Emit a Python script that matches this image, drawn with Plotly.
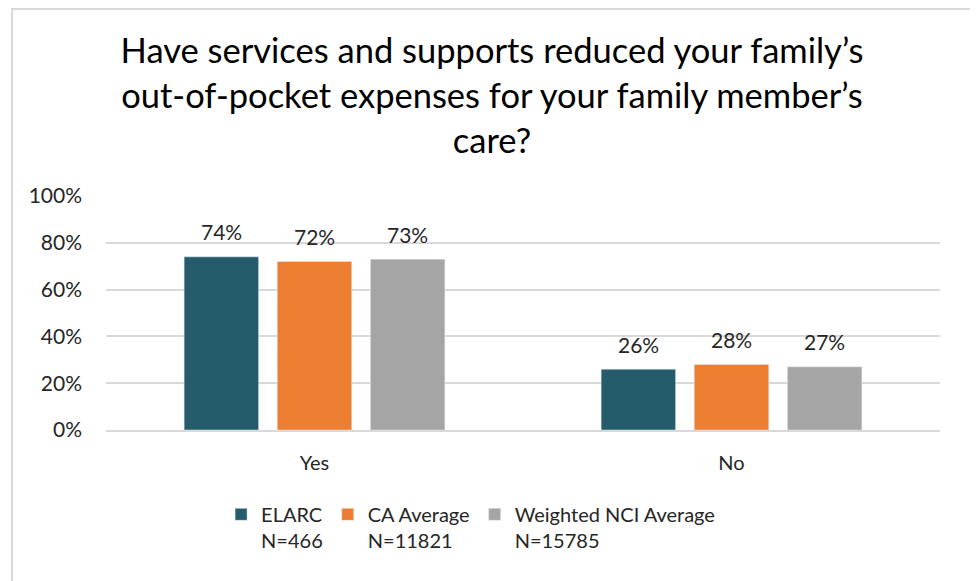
import plotly.graph_objects as go

categories = ["Yes", "No"]
series_names = ["ELARC<br>N=466", "CA Average<br>N=11821", "Weighted NCI Average<br>N=15785"]
elarc = [74, 26]
ca_avg = [72, 28]
nci_avg = [73, 27]
colors = ["#245C6B", "#ED7D31", "#A5A5A5"]
y_ticks = [0, 20, 40, 60, 80, 100]

FONT = "Lato"
BARGAP = 0.33
W, H = 970, 573
fig = go.Figure()
series = [elarc, ca_avg, nci_avg]
for name, vals, col in zip(series_names, series, colors):
    fig.add_trace(go.Bar(
        x=list(range(len(categories))), y=vals, name=name, marker_color=col,
    ))

# data labels above bars (annotations positioned from the data values)
n = len(series)
for j, vals in enumerate(series):
    for i, v in enumerate(vals):
        fig.add_annotation(
            x=i + (j - (n - 1) / 2) * (1 - BARGAP) / n, y=v, xref="x", yref="y",
            text=f"{v}%", showarrow=False, yanchor="middle", yshift=25,
            font=dict(family=FONT, size=21, color="#262626"),
        )

fig.update_layout(
    width=W, height=H,
    margin=dict(l=98, r=38, t=188, b=151),
    paper_bgcolor="white", plot_bgcolor="white",
    barmode="group", bargap=BARGAP, bargroupgap=0.2,
    title=dict(
        text="Have services and supports reduced your family’s<br>out-of-pocket expenses for your family member’s<br>care?",
        x=484/W, xanchor="center", xref="container",
        y=1-55/H, yanchor="top", yref="container",
        font=dict(family=FONT, size=34.5, color="#000000"),
    ),
    font=dict(family=FONT, size=20, color="#262626"),
    showlegend=True,
    legend=dict(
        orientation="h", x=0.138, xanchor="left",
        y=-0.2515 - 6/234, yanchor="top", valign="top",
        font=dict(family=FONT, size=20, color="#262626"),
        traceorder="normal",
    ),
)
fig.update_yaxes(
    range=[0, 100], tickvals=y_ticks, ticktext=[f"{t}%" for t in y_ticks],
    showgrid=True, gridcolor="#D9D9D9", gridwidth=2,
    zeroline=False, showline=False, ticks="", ticklabelstandoff=23,
    tickfont=dict(family=FONT, size=21, color="#262626"),
)
fig.update_xaxes(
    range=[-0.5, len(categories) - 0.5],
    tickvals=list(range(len(categories))), ticktext=categories,
    showline=True, linecolor="#D9D9D9", linewidth=2, ticks="",
    ticklabelstandoff=14,
    tickfont=dict(family=FONT, size=20, color="#262626"),
)
fig.add_shape(type="rect", xref="paper", yref="paper",
              x0=(12-106)/834, x1=(973-106)/834, y0=(430-590)/234, y1=1 + 187/234,
              line=dict(color="#D9D9D9", width=2), fillcolor="rgba(0,0,0,0)", layer="below")

fig.write_html("out.html")
